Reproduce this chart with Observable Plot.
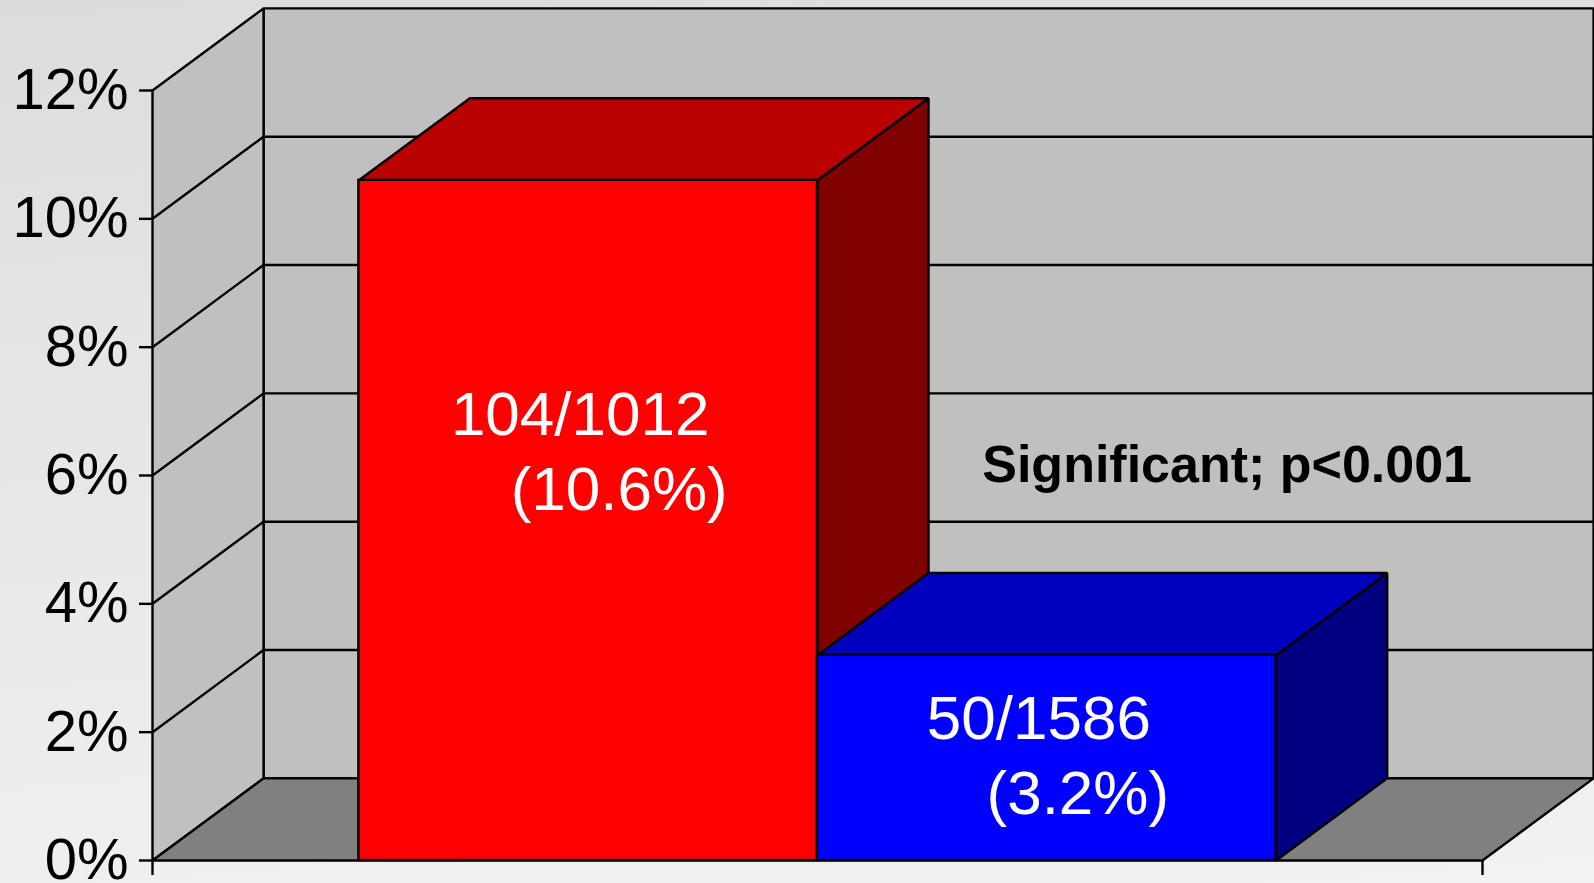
<!DOCTYPE html>
<html>
<head>
<meta charset="utf-8">
<script src="https://cdn.jsdelivr.net/npm/d3@7"></script>
<script src="https://cdn.jsdelivr.net/npm/@observablehq/plot@0.6"></script>
<style>
  html, body { margin: 0; padding: 0; }
  body {
    width: 1594px; height: 883px; overflow: hidden;
    background: linear-gradient(175deg, #dcdcdc 0%, #e6e6e6 40%, #f2f2f2 100%);
    font-family: "Liberation Sans", Arial, sans-serif;
  }
</style>
</head>
<body>
<div id="chart"></div>
<script>
// Event counts, group sizes and reported rates for the two groups
const groups = ["Group 1", "Group 2"];
const events = [104, 50];
const totals = [1012, 1586];
const rates = [10.6, 3.2];
const yTicks = [0, 2, 4, 6, 8, 10, 12];
const note = "Significant; p<0.001";

// Face shades for each bar: front, top, side
const shades = [
  {front: "#ff0000", top: "#bb0000", side: "#800000"},
  {front: "#0000ff", top: "#0000bf", side: "#000080"}
];
const wallFill = "#c0c0c0";
const floorFill = "#808080";
const LW = 2.4;

// Oblique depth of the 3-D box, in x units and y (percent) units
const DX = 0.0835;
const DY = 1.28;
const YMAX = 12;
// Bars are adjacent, centred in the single category with equal gaps
const gapWidth = 0.9;
const barW = 1 / (groups.length + gapWidth);
const x0 = (1 - barW * groups.length) / 2;

const bars = groups.map((g, i) => ({
  group: g,
  events: events[i],
  total: totals[i],
  rate: rates[i],
  xa: x0 + i * barW,
  xb: x0 + (i + 1) * barW,
  shade: shades[i]
}));

const pts = (arr) => arr.map(([x, y]) => ({x, y}));
const face = (arr, fill) =>
  Plot.line(pts(arr), {x: "x", y: "y", curve: "linear-closed", fill, stroke: "black", strokeWidth: LW, strokeLinejoin: "miter"});

const marks = [];
// Back wall, side wall and floor
marks.push(face([[DX, DY], [1 + DX, DY], [1 + DX, YMAX + DY], [DX, YMAX + DY]], wallFill));
marks.push(face([[0, 0], [DX, DY], [DX, YMAX + DY], [0, YMAX]], wallFill));
marks.push(face([[0, 0], [1, 0], [1 + DX, DY], [DX, DY]], floorFill));

// Gridlines across the back wall and up the side wall
const grid = yTicks.filter(t => t > 0 && t < YMAX);
marks.push(Plot.link(grid, {x1: DX, x2: 1 + DX, y1: t => t + DY, y2: t => t + DY, stroke: "black", strokeWidth: LW}));
marks.push(Plot.link(grid, {x1: 0, x2: DX, y1: t => t, y2: t => t + DY, stroke: "black", strokeWidth: LW}));

// Axes
marks.push(Plot.axisY({ticks: yTicks, tickFormat: d => d + "%", tickSize: 13, tickPadding: 11,
  fontSize: 58, strokeWidth: LW, label: null, fill: "black", stroke: "black"}));
marks.push(Plot.axisX({ticks: [0, 1], tickFormat: () => "", tickSize: 15, strokeWidth: LW, label: null, stroke: "black"}));

// 3-D bars: side, top, then front face
for (const b of bars) {
  marks.push(face([[b.xb, 0], [b.xb + DX, DY], [b.xb + DX, b.rate + DY], [b.xb, b.rate]], b.shade.side));
  marks.push(face([[b.xa, b.rate], [b.xb, b.rate], [b.xb + DX, b.rate + DY], [b.xa + DX, b.rate + DY]], b.shade.top));
  marks.push(Plot.rect([b], {x1: "xa", x2: "xb", y1: 0, y2: "rate", fill: b.shade.front, stroke: "black", strokeWidth: LW}));
}

// Value labels inside the bars
const labelY = d => d.rate * 0.64 - 0.16;
const labelX = d => (d.xa + d.xb) / 2;
const labelStyle = {fill: "white", fontSize: 62, lineAnchor: "bottom", textAnchor: "middle",
  fontFamily: "Liberation Sans, Arial, sans-serif"};
marks.push(Plot.text(bars, {x: labelX, y: labelY, text: d => `${d.events}/${d.total}`, dx: -8, ...labelStyle}));
marks.push(Plot.text(bars, {x: labelX, y: labelY, text: d => `(${d.rate}%)`, dx: 31, dy: 75, ...labelStyle}));

// Significance note on the back wall
marks.push(Plot.text([note], {x: 0.808, y: 5.9, text: d => d, fontSize: 52, fontWeight: "bold",
  lineAnchor: "bottom", textAnchor: "middle", fill: "black", fontFamily: "Liberation Sans, Arial, sans-serif"}));

const chart = Plot.plot({
  width: 1594,
  height: 883,
  marginLeft: 152,
  marginRight: 112,
  marginTop: 90,
  marginBottom: 23,
  x: {domain: [0, 1]},
  y: {domain: [0, YMAX]},
  style: {background: "transparent", overflow: "visible", fontFamily: "Liberation Sans, Arial, sans-serif"},
  marks
});
document.getElementById("chart").appendChild(chart);
</script>
</body>
</html>
